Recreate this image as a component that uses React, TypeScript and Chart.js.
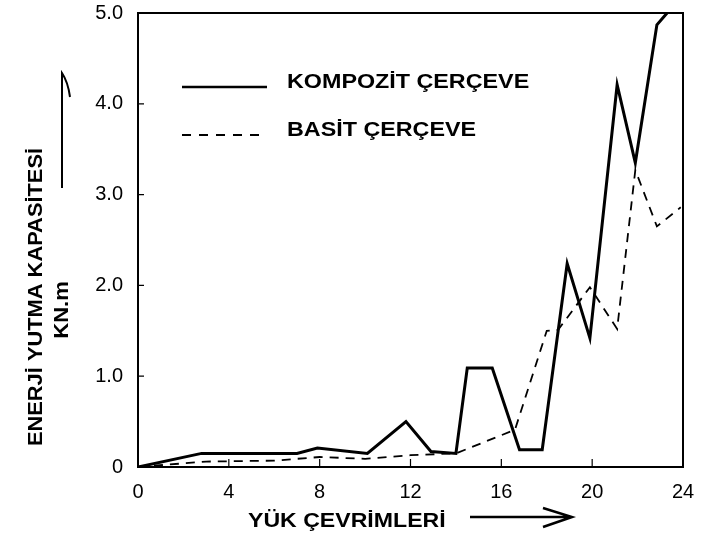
import React, { useEffect, useRef } from "react";
import { Chart, registerables } from "chart.js";

Chart.register(...registerables);

// Data
const kompozitX = [0, 2.8, 7.0, 7.9, 10.1, 11.8, 12.9, 14.0, 14.5, 15.6, 16.8, 17.8, 18.9, 19.9, 21.1, 21.9, 22.85, 23.3];
const kompozitY = [0, 0.15, 0.15, 0.21, 0.15, 0.5, 0.17, 0.15, 1.09, 1.09, 0.19, 0.19, 2.24, 1.42, 4.21, 3.35, 4.87, 5.0];
const basitX = [0, 3, 6, 8, 10, 12, 14, 16.6, 18.0, 18.5, 19.9, 21.1, 21.9, 22.85, 23.9];
const basitY = [0, 0.06, 0.07, 0.11, 0.09, 0.13, 0.15, 0.41, 1.5, 1.51, 1.98, 1.52, 3.27, 2.65, 2.86];

const xTicks = [0, 4, 8, 12, 16, 20, 24];
const yTicks = [0, 1, 2, 3, 4, 5];
const seriesNames = ["KOMPOZİT ÇERÇEVE", "BASİT ÇERÇEVE"];
const xTitle = "YÜK ÇEVRİMLERİ";
const yTitle = "ENERJİ YUTMA KAPASİTESİ";
const yUnit = "KN.m";

const FONT = '"Liberation Sans", Arial, sans-serif';

const decorPlugin = {
  id: "decor",
  afterDraw(chart: any) {
    const ctx = chart.ctx as CanvasRenderingContext2D;
    const { left, right, top, bottom } = chart.chartArea;
    const xs = chart.scales.x;
    const ys = chart.scales.y;
    ctx.save();
    // frame
    ctx.strokeStyle = "#000";
    ctx.lineWidth = 2;
    ctx.beginPath();
    ctx.moveTo(left, bottom);
    ctx.lineTo(left, top);
    ctx.lineTo(right, top);
    ctx.lineTo(right, bottom);
    ctx.lineTo(left, bottom);
    ctx.stroke();
    // inward ticks
    ctx.lineWidth = 1.2;
    ctx.beginPath();
    for (const v of yTicks.slice(1, -1)) {
      const y = ys.getPixelForValue(v);
      ctx.moveTo(left, y);
      ctx.lineTo(left + 6, y);
    }
    for (const v of xTicks.slice(1, -1)) {
      const x = xs.getPixelForValue(v);
      ctx.moveTo(x, bottom);
      ctx.lineTo(x, bottom - 8);
    }
    ctx.stroke();

    // legend
    const items = [
      { name: seriesNames[0], dash: [] as number[], lw: 2.5, ly: 87, ty: 82 },
      { name: seriesNames[1], dash: [9, 8], lw: 1.8, ly: 135, ty: 130 },
    ];
    for (const it of items) {
      ctx.setLineDash(it.dash);
      ctx.lineWidth = it.lw;
      ctx.beginPath();
      ctx.moveTo(182, it.ly);
      ctx.lineTo(267, it.ly);
      ctx.stroke();
      ctx.setLineDash([]);
      ctx.save();
      ctx.translate(287, it.ty);
      ctx.scale(1.11, 1);
      ctx.font = `bold 21px ${FONT}`;
      ctx.fillStyle = "#000";
      ctx.textAlign = "left";
      ctx.textBaseline = "middle";
      ctx.fillText(it.name, 0, 0);
      ctx.restore();
    }

    // x title
    ctx.save();
    ctx.translate(248, 521);
    ctx.scale(1.1, 1);
    ctx.font = `bold 21px ${FONT}`;
    ctx.fillStyle = "#000";
    ctx.textAlign = "left";
    ctx.textBaseline = "middle";
    ctx.fillText(xTitle, 0, 0);
    ctx.restore();
    // x arrow
    ctx.lineWidth = 2.5;
    ctx.beginPath();
    ctx.moveTo(470, 517);
    ctx.lineTo(572, 517);
    ctx.moveTo(543, 508);
    ctx.lineTo(572, 517);
    ctx.lineTo(543, 527);
    ctx.stroke();

    // y title
    ctx.save();
    ctx.translate(36, 297);
    ctx.rotate(-Math.PI / 2);
    ctx.scale(1.04, 1);
    ctx.font = `bold 21px ${FONT}`;
    ctx.fillStyle = "#000";
    ctx.textAlign = "center";
    ctx.textBaseline = "middle";
    ctx.fillText(yTitle, 0, 0);
    ctx.restore();
    ctx.save();
    ctx.translate(62, 310);
    ctx.rotate(-Math.PI / 2);
    ctx.scale(1.05, 1);
    ctx.font = `bold 21px ${FONT}`;
    ctx.fillStyle = "#000";
    ctx.textAlign = "center";
    ctx.textBaseline = "middle";
    ctx.fillText(yUnit, 0, 0);
    ctx.restore();
    // y arrow
    ctx.lineWidth = 2;
    ctx.beginPath();
    ctx.moveTo(62, 188);
    ctx.lineTo(62, 73);
    ctx.quadraticCurveTo(68, 82, 70, 97);
    ctx.stroke();
    ctx.restore();
  },
};

export default function App() {
  const ref = useRef<HTMLCanvasElement>(null);
  useEffect(() => {
    if (!ref.current) return;
    const chart = new Chart(ref.current, {
      type: "line",
      data: {
        datasets: [
          {
            label: seriesNames[0],
            data: kompozitX.map((x, i) => ({ x, y: kompozitY[i] })),
            borderColor: "#000",
            borderWidth: 3,
            pointRadius: 0,
            tension: 0,
            fill: false,
          },
          {
            label: seriesNames[1],
            data: basitX.map((x, i) => ({ x, y: basitY[i] })),
            borderColor: "#000",
            borderWidth: 1.8,
            borderDash: [9, 7],
            pointRadius: 0,
            tension: 0,
            fill: false,
          },
        ],
      },
      options: {
        responsive: false,
        animation: false,
        layout: { padding: { left: 0, top: 13, right: 18, bottom: 0 } },
        plugins: {
          legend: { display: false },
          tooltip: { enabled: false },
          title: { display: false },
        },
        scales: {
          x: {
            type: "linear",
            min: 0,
            max: 24,
            afterFit: (s: any) => {
              s.height = 73;
              s.paddingLeft = 0;
              s.paddingRight = 0;
              s.paddingTop = 0;
              s.paddingBottom = 0;
            },
            afterBuildTicks: (s: any) => {
              s.ticks = xTicks.map((v) => ({ value: v }));
            },
            grid: { display: false, drawTicks: false },
            border: { display: true, color: "#000", width: 2 },
            ticks: {
              padding: 13,
              color: "#000",
              font: { family: FONT, size: 20 },
              maxRotation: 0,
              callback: (v: any) => String(v),
            },
          },
          y: {
            type: "linear",
            min: 0,
            max: 5,
            afterFit: (s: any) => {
              s.width = 138;
              s.paddingLeft = 0;
              s.paddingRight = 0;
              s.paddingTop = 0;
              s.paddingBottom = 0;
            },
            afterBuildTicks: (s: any) => {
              s.ticks = yTicks.map((v) => ({ value: v }));
            },
            grid: { display: false, drawTicks: false },
            border: { display: true, color: "#000", width: 2 },
            ticks: {
              padding: 15,
              color: "#000",
              font: { family: FONT, size: 20 },
              callback: (v: any) => (v === 0 ? "0" : Number(v).toFixed(1)),
            },
          },
        },
      },
      plugins: [decorPlugin],
    } as any);
    return () => chart.destroy();
  }, []);
  return (
    <div style={{ position: "fixed", left: 0, top: 0, width: 701, height: 540, background: "#fff" }}>
      <canvas ref={ref} width={701} height={540} style={{ display: "block" }} />
    </div>
  );
}
